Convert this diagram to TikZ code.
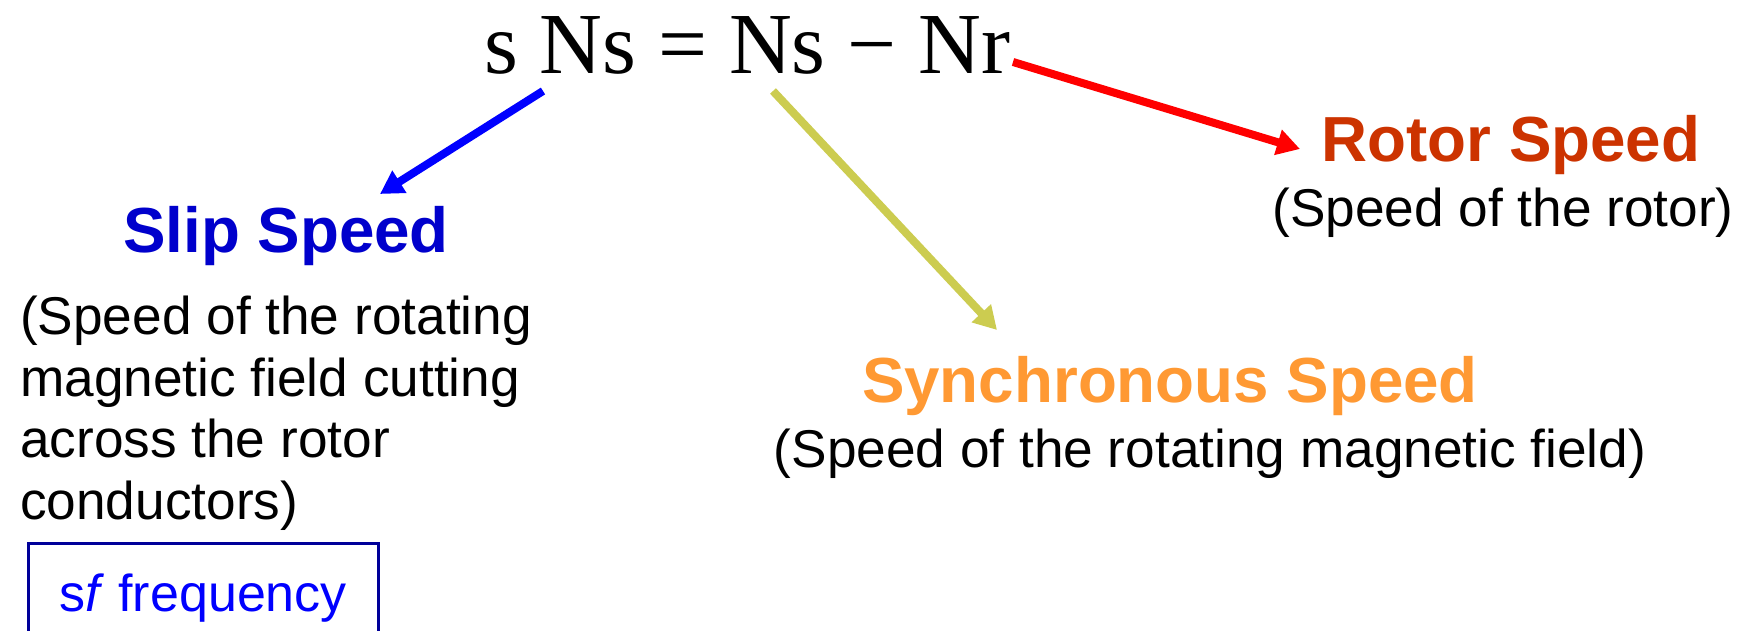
\documentclass[tikz,border=0pt]{standalone}
\usepackage{fontspec}
\setmainfont{Liberation Sans}
\newfontfamily\eqserif{Liberation Serif}
\usetikzlibrary{arrows.meta}
\definecolor{slipblue}{HTML}{0000CC}
\definecolor{arrowblue}{HTML}{0000FF}
\definecolor{freqblue}{HTML}{0000FF}
\definecolor{boxblue}{HTML}{000099}
\definecolor{rotorred}{HTML}{CC3300}
\definecolor{arrowred}{HTML}{FF0000}
\definecolor{syncorange}{HTML}{FF9933}
\definecolor{arrowyellow}{RGB}{204,204,80}
\tikzset{
  head/.style={anchor=base, inner sep=0pt, font=\bfseries\fontsize{63.7}{70}\selectfont},
  desc/.style={anchor=base, inner sep=0pt, font=\fontsize{53.2}{62}\selectfont},
  pointer/.style={line width=8pt, -{Triangle[length=23pt,width=25pt]}},
}
\begin{document}
\begin{tikzpicture}[x=1pt,y=-1pt]
\useasboundingbox (0,0) rectangle (1746,631);
\clip (0,0) rectangle (1746,631);
\fill[white] (0,0) rectangle (1746,631);

\node[anchor=base west, inner sep=0pt, font=\eqserif\fontsize{87}{87}\selectfont] (eq) at (484,74) {s Ns = Ns − Nr};

\node[head, text=rotorred] (rotor) at (1511,162) {Rotor Speed};
\node[desc] (rotordesc) at (1503,227) {(Speed of the rotor)};

\node[head, text=slipblue] (slip) at (286,253) {Slip Speed};
\node[anchor=north west, inner sep=0pt, align=left, font=\fontsize{53.2}{61.5}\selectfont] (slipdesc) at (20,296)
  {(Speed of the rotating\\magnetic field cutting\\across the rotor\\conductors)};

\node[draw=boxblue, line width=3pt, minimum width=350pt, minimum height=110pt, inner sep=0pt,
      text=freqblue, font=\fontsize{52}{62}\selectfont] (freq) at (203,598) {s\textit{f} frequency};

\node[head, text=syncorange] (sync) at (1170,402) {Synchronous Speed};
\node[desc] (syncdesc) at (1210,467) {(Speed of the rotating magnetic field)};

\coordinate (bs) at (543,91);  \coordinate (be) at (380,194);
\coordinate (ys) at (773,91);  \coordinate (ye) at (997,330);
\coordinate (rs) at (1013,62); \coordinate (re) at (1300,149);

\draw[pointer, arrowblue] (bs) -- (be);
\draw[pointer, arrowyellow] (ys) -- (ye);
\draw[pointer, arrowred] (rs) -- (re);
\end{tikzpicture}
\end{document}
